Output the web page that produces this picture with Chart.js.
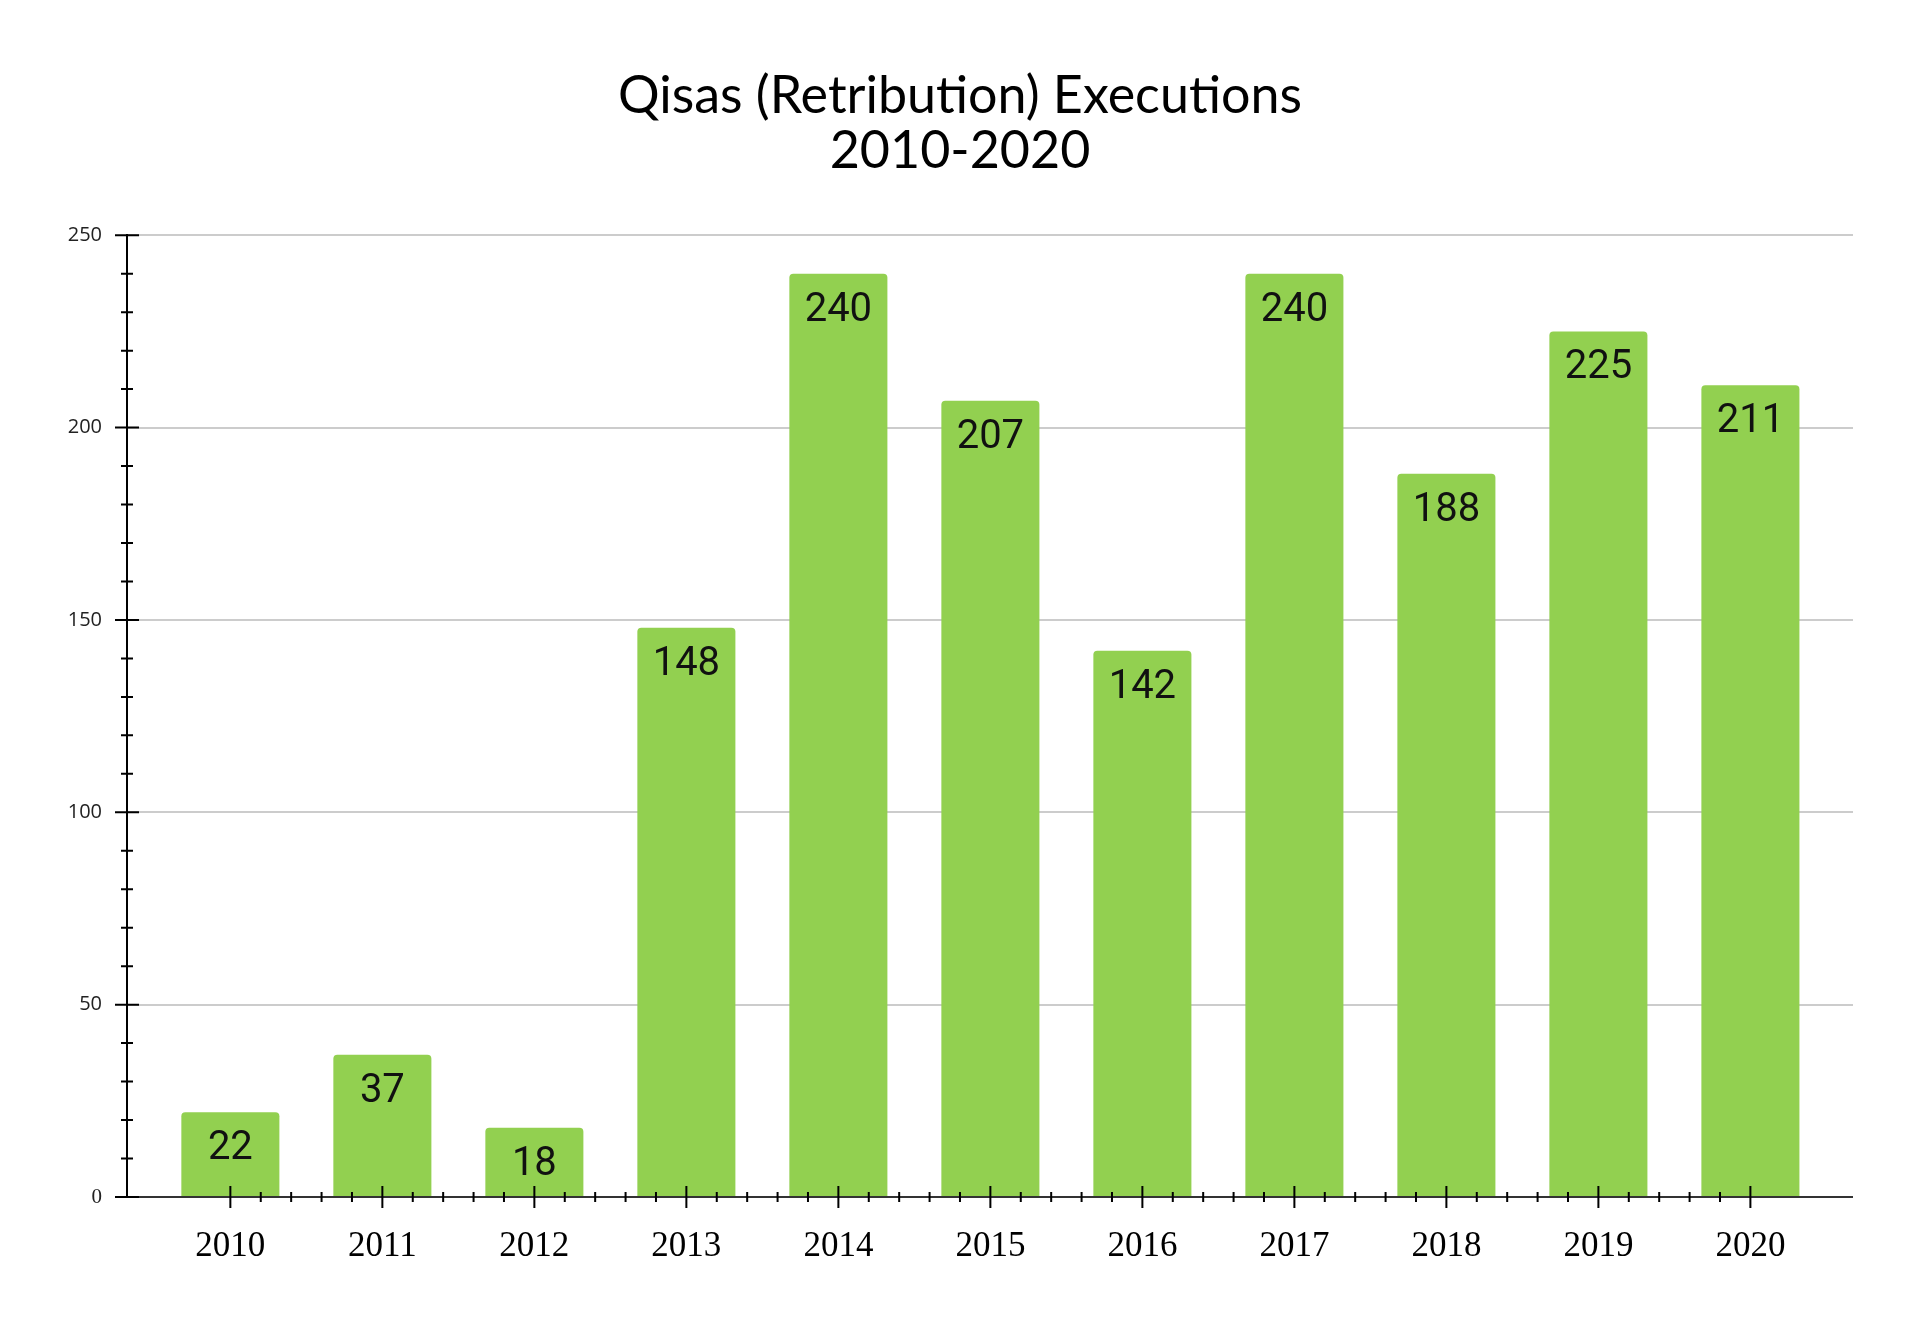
<!DOCTYPE html>
<html>
<head>
<meta charset="utf-8">
<title>Qisas Executions</title>
<script src="https://cdn.jsdelivr.net/npm/chart.js@4"></script>
<style>
  body { margin: 0; background: #fff; }
  #grafico { display: block; }
</style>
</head>
<body>
<canvas id="grafico" width="1920" height="1330"></canvas>
<script>
const years = ["2010", "2011", "2012", "2013", "2014", "2015", "2016", "2017", "2018", "2019", "2020"];
const executions = [22, 37, 18, 148, 240, 207, 142, 240, 188, 225, 211];
const titleLines = ["Qisas (Retribution) Executions", "2010-2020"];
const yTicks = [0, 50, 100, 150, 200, 250];

// value labels inside the top of each bar
const barLabels = {
    id: 'barLabels',
    afterDatasetsDraw(chart) {
        const ctx = chart.ctx;
        const meta = chart.getDatasetMeta(0);
        ctx.save();
        ctx.font = '40px Roboto';
        ctx.fillStyle = '#111';
        ctx.textAlign = 'center';
        ctx.textBaseline = 'middle';
        meta.data.forEach((bar, i) => {
            ctx.fillText(executions[i], bar.x, bar.y + 37);
        });
        ctx.restore();
    }
};

// tick marks that cross the axis lines, major and minor
const crossTicks = {
    id: 'crossTicks',
    afterDatasetsDraw(chart) {
        const ctx = chart.ctx;
        const x = chart.scales.x;
        const y = chart.scales.y;
        const x0 = y.getPixelForValue(0);
        const left = chart.chartArea.left;
        ctx.save();
        ctx.strokeStyle = '#333';
        ctx.lineWidth = 2;
        ctx.beginPath();
        ctx.moveTo(left, x0);
        ctx.lineTo(chart.chartArea.right, x0);
        ctx.stroke();
        ctx.strokeStyle = '#000';
        ctx.beginPath();
        for (let v = 0; v <= 250; v += 10) {
            const py = y.getPixelForValue(v);
            const len = v % 50 === 0 ? 12 : 6;
            ctx.moveTo(left - len, py);
            ctx.lineTo(left + len, py);
        }
        for (let k = 0; k <= (years.length - 1) * 5; k++) {
            const px = x.getPixelForValue(k / 5);
            const len = k % 5 === 0 ? 11 : 5;
            ctx.moveTo(px, x0 - len);
            ctx.lineTo(px, x0 + len);
        }
        ctx.stroke();
        ctx.restore();
    }
};

const config = {
    type: 'bar',
    data: {
        datasets: [{
            data: years.map((yr, i) => ({ x: i, y: executions[i] })),
            backgroundColor: '#92D050',
            borderRadius: { topLeft: 4, topRight: 4 },
            borderSkipped: 'bottom',
            barPercentage: 0.645,
            categoryPercentage: 1
        }]
    },
    options: {
        responsive: false,
        devicePixelRatio: 1,
        animation: false,
        layout: { padding: { left: 67, right: 67, top: 0, bottom: 0 } },
        plugins: {
            legend: { display: false },
            tooltip: { enabled: false },
            title: {
                display: true,
                text: titleLines,
                color: '#000',
                font: { family: 'Lato', size: 52, weight: 'normal', lineHeight: 1.06 },
                padding: { top: 69, bottom: 56 }
            }
        },
        scales: {
            x: {
                type: 'linear',
                offset: false,
                min: -0.68,
                max: 10.675,
                afterBuildTicks: (scale) => { scale.ticks = years.map((yr, i) => ({ value: i })); },
                grid: { display: false, drawTicks: false, offset: false },
                border: { display: false },
                ticks: {
                    autoSkip: false,
                    maxRotation: 0,
                    padding: 29,
                    color: '#000',
                    font: { family: 'Liberation Serif', size: 35 },
                    callback: (v) => years[v]
                },
                afterFit: (scale) => { scale.height = 133; }
            },
            y: {
                min: 0,
                max: 250,
                afterBuildTicks: (scale) => { scale.ticks = yTicks.map(v => ({ value: v })); },
                grid: { color: '#cccccc', lineWidth: 2, drawTicks: false },
                border: { display: true, color: '#000', width: 2 },
                ticks: {
                    padding: 25,
                    color: '#222',
                    font: (c) => c.tick && c.tick.value === 0
                        ? { family: 'Liberation Serif', size: 21 }
                        : { family: 'Open Sans', size: 20 }
                },
                afterFit: (scale) => { scale.width = 60; }
            }
        }
    },
    plugins: [barLabels, crossTicks]
};

new Chart(document.getElementById('grafico'), config);
</script>
</body>
</html>
